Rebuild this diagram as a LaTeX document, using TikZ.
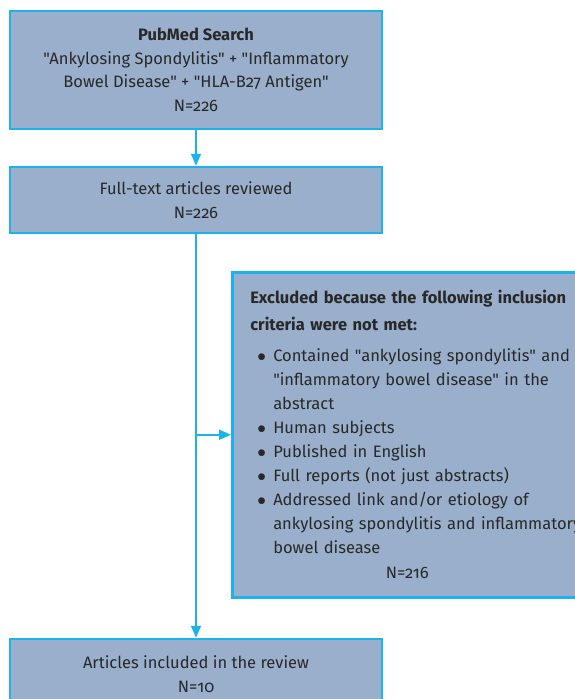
\documentclass[tikz,border=0pt]{standalone}
\usepackage{fontspec}
\setmainfont{Fira Sans}[Numbers=OldStyle, Ligatures=TeXOff]
\usetikzlibrary{arrows.meta}
\usepackage{xcolor}
\definecolor{boxfill}{RGB}{154,175,203}
\definecolor{boxline}{RGB}{28,178,236}
\definecolor{ink}{RGB}{40,40,40}
\newcommand{\critem}[1]{\mbox{\makebox[23pt][l]{\hspace{7pt}$\bullet$}#1}}
\newcommand{\critnext}[1]{\mbox{\hspace{23pt}#1}}

\begin{document}
\begin{tikzpicture}[x=1pt, y=-1pt,
		b/.style = {rectangle, draw=boxline, fill=boxfill, line width=2.5pt, text=ink, font=\fontsize{16.5pt}{23.5pt}\selectfont, align=center, minimum width=372pt},
		e/.style = {rectangle, draw=boxline, fill=boxfill, line width=2.5pt, text=ink, font=\fontsize{16.5pt}{24pt}\selectfont, align=left, text width=314pt, inner xsep=18pt, minimum height=325pt},
		r/.style = {-{Triangle[length=12pt, width=10pt]}, draw=boxline, line width=1.8pt}
		]
		\useasboundingbox (0,0) rectangle (574,699);
		
		%Nodes
		\node[b, minimum height=118pt]	(search)	at	(196, 70)	{\textbf{PubMed Search}\\
			"Ankylosing Spondylitis" + "Inflammatory\\
			Bowel Disease" + "HLA-B27 Antigen"\\
			N=226};
		\node[b, minimum height=66pt]	(review)	at	(196, 200)	{Full-text articles reviewed\\ N=226};
		\node[e, anchor=north west]	(excl)	at	(231, 271)	{\mbox{\textbf{Excluded because the following inclusion}}\\[3pt]
			\mbox{\textbf{criteria were not met:}}\\[7pt]
			\critem{Contained "ankylosing spondylitis" and}\\
			\critnext{"inflammatory bowel disease" in the}\\
			\critnext{abstract}\\
			\critem{Human subjects}\\
			\critem{Published in English}\\
			\critem{Full reports (not just abstracts)}\\
			\critem{Addressed link and/or etiology of}\\
			\critnext{ankylosing spondylitis and inflammatory}\\
			\critnext{bowel disease}\\[1pt]
			\makebox[314pt]{N=216}};
		\node[b, minimum height=70pt]	(incl)	at	(196, 674)	{Articles included in the review\\ N=10};
		
		%Lines
		\draw[r]	(search.south)	to	(review.north);
		\draw[r]	(review.south)	to	(incl.north);
		\draw[r]	(review.south |- excl.west)	to	(excl.west);
	\end{tikzpicture}
\end{document}
